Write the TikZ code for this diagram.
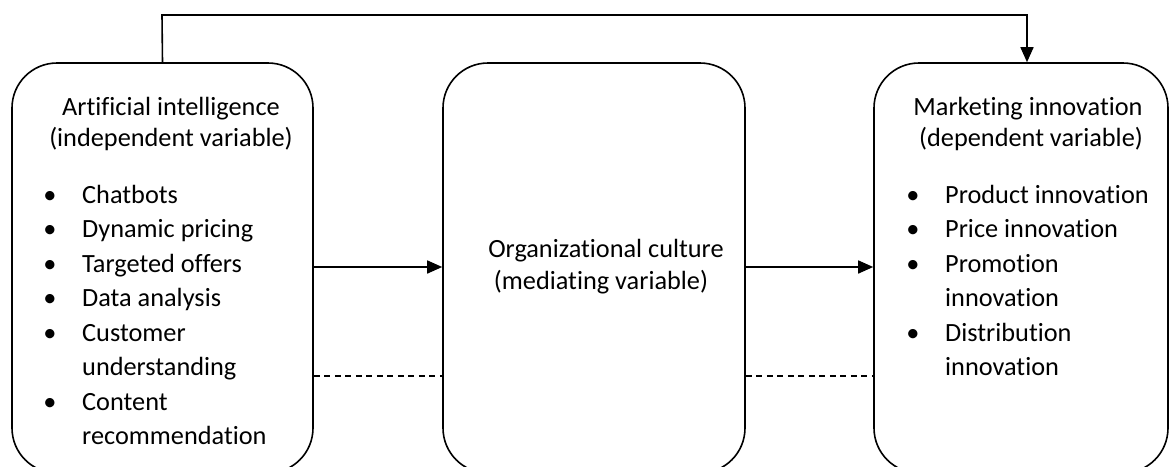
\documentclass[tikz,border=0pt]{standalone}
\usepackage{fontspec}
\setmainfont{Carlito}[Ligatures=NoCommon]
\usetikzlibrary{arrows.meta}
\begin{document}
\begin{tikzpicture}[x=1pt,y=-1pt,
  varbox/.style={draw,line width=1.6pt,rounded corners=45pt,inner sep=0pt},
  txt/.style={inner sep=0pt,anchor=base west,font=\fontsize{26.3}{34}\selectfont},
  ctxt/.style={inner sep=0pt,anchor=base,font=\fontsize{26.3}{34}\selectfont},
  bul/.style={inner sep=0pt,anchor=base,font=\fontsize{26.3}{34}\selectfont},
  link/.style={line width=1.6pt,-{Triangle[length=15pt,width=13pt]}},
  dlink/.style={line width=1.3pt,dash pattern=on 6pt off 4.5pt}]
\useasboundingbox (0,0) rectangle (1170,466);
% boxes
\node[varbox,minimum width=301pt,minimum height=410pt] (ai) at (162.5,268) {};
\node[varbox,minimum width=302pt,minimum height=410pt] (oc) at (594,268) {};
\node[varbox,minimum width=294pt,minimum height=410pt] (mi) at (1021,268) {};
% headers
\node[ctxt] (aih) at (171,115) {Artificial intelligence};
\node[ctxt] (ais) at (171,146) {(independent variable)};
\node[ctxt] (och) at (606,257) {Organizational culture};
\node[ctxt] (ocs) at (601,289) {(mediating variable)};
\node[ctxt] (mih) at (1028,115) {Marketing innovation};
\node[ctxt] (mis) at (1031,146) {(dependent variable)};
% left list
\node[bul] (lb1) at (50,203) {•}; \node[txt] (l1) at (82,203) {Chatbots};
\node[bul] (lb2) at (50,237.5) {•}; \node[txt] (l2) at (82,237.5) {Dynamic pricing};
\node[bul] (lb3) at (50,272) {•}; \node[txt] (l3) at (82,272) {Targeted offers};
\node[bul] (lb4) at (50,306.5) {•}; \node[txt] (l4) at (82,306.5) {Data analysis};
\node[bul] (lb5) at (50,341) {•}; \node[txt] (l5) at (82,341) {Customer};
\node[txt] (l6) at (82,375.5) {understanding};
\node[bul] (lb7) at (50,410) {•}; \node[txt] (l7) at (82,410) {Content};
\node[txt] (l8) at (82,444.5) {recommendation};
% right list
\node[bul] (rb1) at (913,203) {•}; \node[txt] (r1) at (945,203) {Product innovation};
\node[bul] (rb2) at (913,237.5) {•}; \node[txt] (r2) at (945,237.5) {Price innovation};
\node[bul] (rb3) at (913,272) {•}; \node[txt] (r3) at (945,272) {Promotion};
\node[txt] (r4) at (945,306.5) {innovation};
\node[bul] (rb5) at (913,341) {•}; \node[txt] (r5) at (945,341) {Distribution};
\node[txt] (r6) at (945,375.5) {innovation};
% connectors
\coordinate (tl) at (162,15);
\coordinate (tr) at (1027,15);
\draw[link] (ai.north) -- (tl) -- (tr) -- (tr |- mi.north);
\draw[link] (ai.east |- 0,267) -- (oc.west |- 0,267);
\draw[link] (oc.east |- 0,267) -- (mi.west |- 0,267);
\draw[dlink] (ai.east |- 0,376) -- (oc.west |- 0,376);
\draw[dlink] (oc.east |- 0,376) -- (mi.west |- 0,376);
\end{tikzpicture}
\end{document}
